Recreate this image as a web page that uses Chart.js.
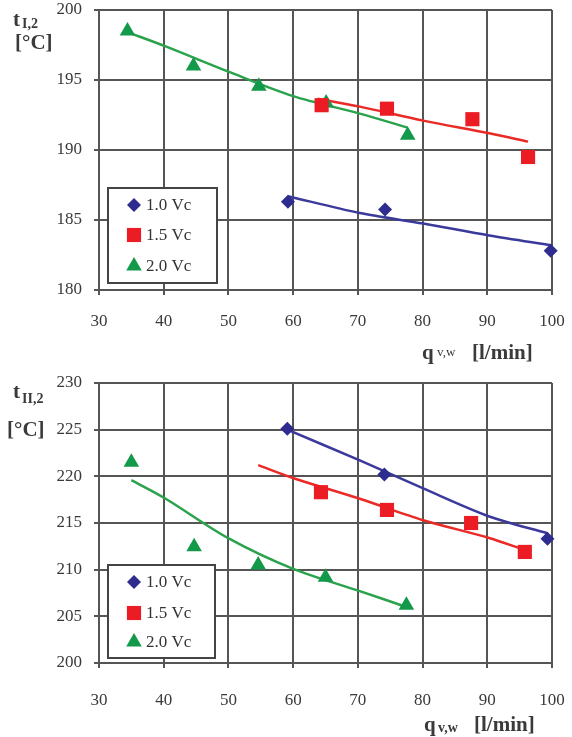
<!DOCTYPE html>
<html>
<head>
<meta charset="utf-8">
<script src="https://cdn.jsdelivr.net/npm/chart.js@4/dist/chart.umd.min.js"></script>
<style>
  body { margin: 0; background: #fff; }
  canvas { display: block; }
</style>
</head>
<body>
<canvas id="chartTop" width="572" height="370"></canvas>
<canvas id="chartBottom" width="572" height="367"></canvas>
<script>
// series names and ticks
const seriesNames = ["1.0 Vc", "1.5 Vc", "2.0 Vc"];
const qTicks = [30, 40, 50, 60, 70, 80, 90, 100];
const tTicksTop = [180, 185, 190, 195, 200];
const tTicksBottom = [200, 205, 210, 215, 220, 225, 230];

// upper chart: t I,2 measured
const topQ10 = [59.2, 74.2, 99.8];
const topT10 = [186.3, 185.75, 182.8];
const topQ15 = [64.4, 74.5, 87.7, 96.3];
const topT15 = [193.2, 192.95, 192.2, 189.5];
const topQ20 = [34.4, 44.6, 54.7, 65.1, 77.7];
const topT20 = [198.5, 196.0, 194.55, 193.35, 191.05];
// upper chart: fitted lines
const topFitQ10 = [59.2, 70.3, 80.1, 90.3, 99.9];
const topFitT10 = [186.7, 185.5, 184.75, 183.9, 183.2];
const topFitQ15 = [63.8, 70.3, 80.1, 90.3, 96.3];
const topFitT15 = [193.66, 193.1, 192.1, 191.2, 190.6];
const topFitQ20 = [34.5, 40.3, 50.0, 60.0, 70.3, 77.7];
const topFitT20 = [198.4, 197.4, 195.6, 193.85, 192.6, 191.6];

// lower chart: t II,2 measured
const botQ10 = [59.1, 74.1, 99.3];
const botT10 = [225.1, 220.2, 213.3];
const botQ15 = [64.3, 74.5, 87.5, 95.8];
const botT15 = [218.3, 216.4, 215.0, 211.9];
const botQ20 = [35.0, 44.7, 54.6, 65.0, 77.5];
const botT20 = [221.5, 212.45, 210.5, 209.2, 206.2];
// lower chart: fitted lines
const botFitQ10 = [59.1, 70.3, 80.1, 90.3, 99.3];
const botFitT10 = [225.0, 221.7, 218.7, 215.7, 213.9];
const botFitQ15 = [54.6, 60.1, 70.3, 80.1, 90.3, 95.8];
const botFitT15 = [221.2, 219.8, 217.6, 215.3, 213.4, 212.1];
const botFitQ20 = [35.0, 40.3, 49.9, 60.1, 70.3, 77.5];
const botFitT20 = [219.6, 217.6, 213.4, 210.05, 207.7, 206.0];

const SERIF = '"Liberation Serif", "Times New Roman", serif';
const markerColors = ["#2E2C8E", "#EC1C24", "#13994A"];
const lineColors = ["#3B3A9C", "#EA2A26", "#2BA24C"];
const markerStyles = ["rectRot", "rect", "triangle"];
const markerSizes = [7, 10, 9];
const GRID = "#555";

const zip = (xs, ys) => xs.map((x, i) => ({ x: x, y: ys[i] }));

function buildDatasets(points, fits) {
  const sets = [];
  points.forEach((p, i) => {
    sets.push({
      label: seriesNames[i],
      data: zip(p[0], p[1]),
      pointStyle: markerStyles[i],
      pointRadius: markerSizes[i],
      pointHoverRadius: markerSizes[i],
      pointBackgroundColor: markerColors[i],
      pointBorderWidth: 0,
      showLine: false,
      order: 1,
      clip: false,
      isMarker: true
    });
  });
  fits.forEach((f, i) => {
    sets.push({
      label: seriesNames[i] + " fit",
      data: zip(f[0], f[1]),
      showLine: true,
      borderColor: lineColors[i],
      borderWidth: 2.5,
      pointRadius: 0,
      tension: 0.3,
      order: 2,
      clip: false
    });
  });
  return sets;
}

// legend box inside the plot area and axis titles
const decorPlugin = {
  id: "decor",
  afterDatasetsDraw(chart, args, opts) {
    const ctx = chart.ctx;
    const lg = opts.legend;
    ctx.save();
    ctx.fillStyle = "#fff";
    ctx.fillRect(lg.x, lg.y, lg.w, lg.h);
    ctx.strokeStyle = "#444";
    ctx.lineWidth = 2;
    ctx.strokeRect(lg.x, lg.y, lg.w, lg.h);
    const markers = chart.data.datasets.filter(d => d.isMarker);
    markers.forEach((d, i) => {
      const cy = lg.rows[i];
      ctx.fillStyle = d.pointBackgroundColor;
      Chart.helpers.drawPoint(ctx, {
        pointStyle: d.pointStyle, radius: d.pointRadius, rotation: 0, borderWidth: 0
      }, lg.markerX, cy);
      ctx.fillStyle = "#333";
      ctx.font = "17px " + SERIF;
      ctx.textBaseline = "middle";
      ctx.textAlign = "left";
      ctx.fillText(d.label, lg.textX, cy + 1);
    });
    opts.texts.forEach(t => {
      ctx.font = t.font;
      ctx.fillStyle = "#3a3a3a";
      ctx.textBaseline = "alphabetic";
      ctx.textAlign = "left";
      ctx.fillText(t.text, t.x, t.y);
    });
    ctx.restore();
  }
};

function makeChart(id, cfg) {
  return new Chart(document.getElementById(id), {
    type: "scatter",
    data: { datasets: buildDatasets(cfg.points, cfg.fits) },
    options: {
      responsive: false,
      animation: false,
      layout: { padding: { top: cfg.top, right: 20, left: 0, bottom: 0 } },
      plugins: {
        legend: { display: false },
        tooltip: { enabled: false },
        decor: { legend: cfg.legend, texts: cfg.texts }
      },
      scales: {
        x: {
          type: "linear",
          min: qTicks[0],
          max: qTicks[qTicks.length - 1],
          afterBuildTicks: s => { s.ticks = qTicks.map(v => ({ value: v })); },
          afterFit: s => { s.height = cfg.xHeight; s.paddingLeft = 0; s.paddingRight = 0; },
          grid: { color: GRID, lineWidth: 2, tickLength: 5, tickColor: GRID },
          border: { color: GRID, width: 2 },
          ticks: { color: "#3a3a3a", font: { family: SERIF, size: 17 }, padding: cfg.xPad, maxRotation: 0 }
        },
        y: {
          type: "linear",
          min: cfg.yTicks[0],
          max: cfg.yTicks[cfg.yTicks.length - 1],
          afterBuildTicks: s => { s.ticks = cfg.yTicks.map(v => ({ value: v })); },
          afterFit: s => { s.width = 99; s.paddingTop = 0; s.paddingBottom = 0; },
          grid: { color: GRID, lineWidth: 2, tickLength: 5, tickColor: GRID },
          border: { color: GRID, width: 2 },
          ticks: { color: "#3a3a3a", font: { family: SERIF, size: 17 }, padding: 12 }
        }
      }
    },
    plugins: [decorPlugin]
  });
}

makeChart("chartTop", {
  points: [[topQ10, topT10], [topQ15, topT15], [topQ20, topT20]],
  fits: [[topFitQ10, topFitT10], [topFitQ15, topFitT15], [topFitQ20, topFitT20]],
  yTicks: tTicksTop,
  top: 9,
  xHeight: 80,
  xPad: 16,
  legend: { x: 108, y: 188, w: 109, h: 95, rows: [205, 235, 266], markerX: 134, textX: 146 },
  texts: [
    { text: "t", x: 13, y: 26, font: "bold 21px " + SERIF },
    { text: "I,2", x: 22, y: 28, font: "bold 14px " + SERIF },
    { text: "[°C]", x: 15, y: 49, font: "bold 21px " + SERIF },
    { text: "q", x: 422, y: 359, font: "bold 21px " + SERIF },
    { text: "v,w", x: 437, y: 356, font: "13px " + SERIF },
    { text: "[l/min]", x: 472, y: 359, font: "bold 21px " + SERIF }
  ]
});

makeChart("chartBottom", {
  points: [[botQ10, botT10], [botQ15, botT15], [botQ20, botT20]],
  fits: [[botFitQ10, botFitT10], [botFitQ15, botFitT15], [botFitQ20, botFitT20]],
  yTicks: tTicksBottom,
  top: 13,
  xHeight: 74,
  xPad: 22,
  legend: { x: 108, y: 195, w: 107, h: 93, rows: [212, 243, 272], markerX: 134, textX: 146 },
  texts: [
    { text: "t", x: 13, y: 28, font: "bold 21px " + SERIF },
    { text: "II,2", x: 22, y: 33, font: "bold 14px " + SERIF },
    { text: "[°C]", x: 7, y: 66, font: "bold 21px " + SERIF },
    { text: "q", x: 424, y: 361, font: "bold 21px " + SERIF },
    { text: "v,w", x: 438, y: 362, font: "bold 14px " + SERIF },
    { text: "[l/min]", x: 474, y: 361, font: "bold 21px " + SERIF }
  ]
});
</script>
</body>
</html>
